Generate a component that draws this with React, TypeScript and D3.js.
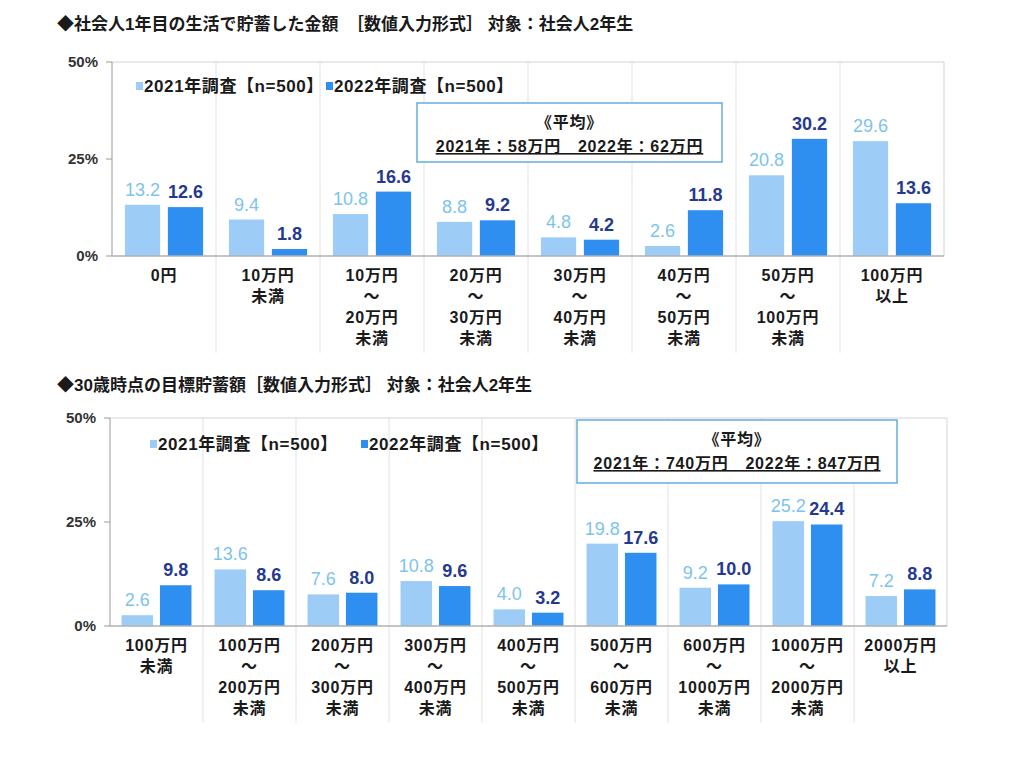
import React from 'react'
import * as d3 from 'd3'

// chart 1: savings in the first year
const savedCategories = ['0円', '10万円\n未満', '10万円\n～\n20万円\n未満', '20万円\n～\n30万円\n未満', '30万円\n～\n40万円\n未満', '40万円\n～\n50万円\n未満', '50万円\n～\n100万円\n未満', '100万円\n以上']
const saved2021 = [13.2, 9.4, 10.8, 8.8, 4.8, 2.6, 20.8, 29.6]
const saved2022 = [12.6, 1.8, 16.6, 9.2, 4.2, 11.8, 30.2, 13.6]

// chart 2: target savings at age 30
const targetCategories = ['100万円\n未満', '100万円\n～\n200万円\n未満', '200万円\n～\n300万円\n未満', '300万円\n～\n400万円\n未満', '400万円\n～\n500万円\n未満', '500万円\n～\n600万円\n未満', '600万円\n～\n1000万円\n未満', '1000万円\n～\n2000万円\n未満', '2000万円\n以上']
const target2021 = [2.6, 13.6, 7.6, 10.8, 4.0, 19.8, 9.2, 25.2, 7.2]
const target2022 = [9.8, 8.6, 8.0, 9.6, 3.2, 17.6, 10.0, 24.4, 8.8]

const seriesNames = ['2021年調査【n=500】', '2022年調査【n=500】']
const yTicks = [0, 25, 50]

const colours = ['#9dcdf6', '#2f8ff0']
const labelColours = ['#7cc4ec', '#25398f']
const FONT = '"Liberation Sans", "Noto Sans CJK JP", sans-serif'

function BarChart(props) {
  const { categories, series, x0, x1, yTop, yBottom, legendX, legendY, legend2X, box, mean } = props
  const xScale = d3.scaleBand().domain(categories).range([x0, x1])
  const inner = d3.scaleBand().domain(['a', 'b']).range([0, xScale.bandwidth()]).paddingInner(0.18).paddingOuter(0.3)
  const yScale = d3.scaleLinear().domain([0, 50]).range([yBottom, yTop])
  const fmt = d3.format('.1f')
  const keys = ['a', 'b']

  return (
    <g>
      {/* vertical separators */}
      {categories.slice(1).map((c, i) => (
        <line key={`sep_${i}`} x1={xScale(c)} x2={xScale(c)} y1={yTop} y2={yBottom + 97} stroke="#e2e2e2" strokeWidth={1} />
      ))}
      <line x1={x0} x2={x1} y1={yTop} y2={yTop} stroke="#d4d4d4" />
      <line x1={x1} x2={x1} y1={yTop} y2={yBottom} stroke="#d4d4d4" />

      {series.map((s, si) => s.map((v, i) => (
        <rect key={`bar_${si}_${i}`}
          x={xScale(categories[i]) + inner(keys[si])}
          y={yScale(v)}
          width={inner.bandwidth()}
          height={yBottom - yScale(v)}
          fill={colours[si]} />
      )))}

      {series.map((s, si) => s.map((v, i) => (
        <text key={`val_${si}_${i}`}
          x={xScale(categories[i]) + inner(keys[si]) + inner.bandwidth() / 2}
          y={yScale(v) - 9}
          textAnchor="middle"
          fontFamily={FONT}
          fontSize={18}
          fontWeight={si === 1 ? 'bold' : 'normal'}
          fill={labelColours[si]}>{fmt(v)}</text>
      )))}

      {/* axes */}
      <line x1={x0} x2={x0} y1={yTop} y2={yBottom} stroke="#9a9a9a" />
      <line x1={x0} x2={x1} y1={yBottom} y2={yBottom} stroke="#b0b0b0" strokeWidth={1.5} />
      {yTicks.map(t => (
        <g key={`tick_${t}`}>
          <line x1={x0 - 6} x2={x0} y1={yScale(t)} y2={yScale(t)} stroke="#9a9a9a" />
          <text x={x0 - 14} y={yScale(t) + 5} textAnchor="end" fontFamily={FONT} fontSize={15} fontWeight="bold" fill="#333">{t}%</text>
        </g>
      ))}

      {categories.map((c, i) => (
        <text key={`cat_${i}`} textAnchor="middle" fontFamily={FONT} fontSize={16} fontWeight="bold" letterSpacing={0.8} fill="#1a1a1a">
          {c.split('\n').map((line, li) => (
            <tspan key={li} x={xScale(c) + xScale.bandwidth() / 2} y={yBottom + 25 + li * 21}>{line}</tspan>
          ))}
        </text>
      ))}

      {/* legend */}
      {seriesNames.map((name, si) => {
        const lx = si === 0 ? legendX : legend2X
        return (
          <g key={`leg_${si}`}>
            <rect x={lx} y={legendY - 10} width={7} height={8} fill={colours[si]} />
            <text x={lx + 8} y={legendY} fontFamily={FONT} fontSize={17} fontWeight="bold" letterSpacing={0.6} fill="#1a1a1a">{name}</text>
          </g>
        )
      })}

      {/* mean box */}
      <rect x={box[0]} y={box[1]} width={box[2] - box[0]} height={box[3] - box[1]} fill="#fff" stroke="#63addf" strokeWidth={1.5} />
      <text x={(box[0] + box[2]) / 2} y={box[1] + 25} textAnchor="middle" fontFamily={FONT} fontSize={16} fontWeight="bold" letterSpacing={0.8} fill="#1a1a1a">《平均》</text>
      <text x={(box[0] + box[2]) / 2} y={box[1] + 49} textAnchor="middle" fontFamily={FONT} fontSize={16} fontWeight="bold" letterSpacing={0.8} fill="#1a1a1a" textDecoration="underline">{mean}</text>
    </g>
  )
}

export default function App() {
  return (
    <svg width={1024} height={772} style={{ position: 'absolute', left: 0, top: 0, background: '#fff' }}>
      <text x={57} y={30} fontFamily={FONT} fontSize={17} fontWeight="bold" fill="#1a1a1a">◆社会人1年目の生活で貯蓄した金額　［数値入力形式］ 対象：社会人2年生</text>
      <BarChart
        categories={savedCategories}
        series={[saved2021, saved2022]}
        x0={112} x1={944} yTop={62} yBottom={256}
        legendX={136} legendY={92} legend2X={326}
        box={[417, 103, 722, 162]}
        mean="2021年：58万円　2022年：62万円" />

      <text x={57} y={391} fontFamily={FONT} fontSize={17} fontWeight="bold" fill="#1a1a1a">◆30歳時点の目標貯蓄額［数値入力形式］ 対象：社会人2年生</text>
      <BarChart
        categories={targetCategories}
        series={[target2021, target2022]}
        x0={110} x1={947} yTop={418} yBottom={626}
        legendX={150} legendY={450} legend2X={361}
        box={[577, 420, 897, 483]}
        mean="2021年：740万円　2022年：847万円" />
    </svg>
  )
}
